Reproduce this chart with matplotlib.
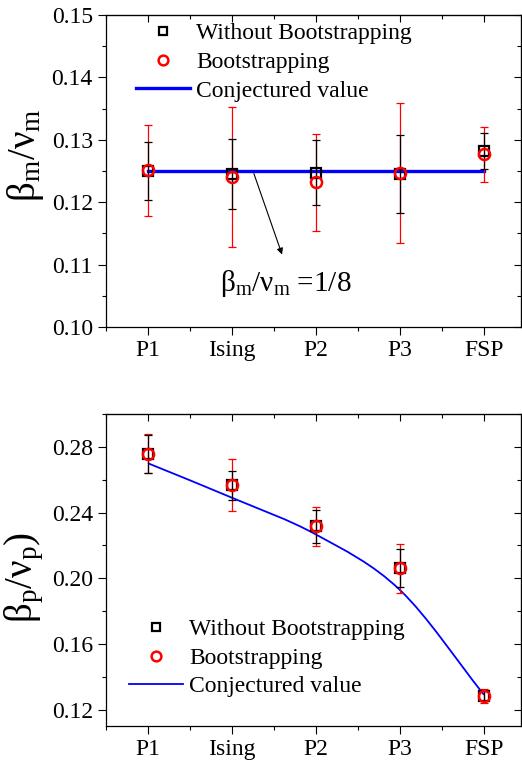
import matplotlib.pyplot as plt
from matplotlib.path import Path
from matplotlib.patches import PathPatch
from matplotlib.lines import Line2D
from matplotlib.ticker import MultipleLocator
import numpy as np

plt.rcParams['font.family'] = 'Liberation Serif'
plt.rcParams['mathtext.fontset'] = 'custom'
plt.rcParams['mathtext.rm'] = 'Liberation Serif'
plt.rcParams['mathtext.it'] = 'Liberation Serif:italic'

categories = ['P1', 'Ising', 'P2', 'P3', 'FSP']

# top panel: beta_m / nu_m
m_plain = [0.1250, 0.12445, 0.12475, 0.1245, 0.1282]
m_plain_err = [0.0046, 0.0056, 0.0052, 0.0062, 0.0029]
m_boot = [0.1251, 0.1240, 0.1232, 0.12465, 0.1277]
m_boot_err = [0.0073, 0.0112, 0.0078, 0.0112, 0.0044]
m_conj = [0.125, 0.125, 0.125, 0.125, 0.125]

# bottom panel: beta_p / nu_p
p_plain = [0.2757, 0.2565, 0.2315, 0.2061, 0.1285]
p_plain_err = [0.0115, 0.0090, 0.0098, 0.0116, 0.0030]
p_boot = [0.2759, 0.2568, 0.2315, 0.2060, 0.1285]
p_boot_err = [0.0121, 0.0160, 0.0116, 0.0150, 0.0042]
p_conj = [0.270, 0.249, 0.2266, 0.1928, 0.1290]

x = np.arange(len(categories))

fig = plt.figure(figsize=(5.22, 7.61), dpi=100)
ax1 = fig.add_axes([0.203, 0.5703, 0.795, 0.41])
ax2 = fig.add_axes([0.203, 0.046, 0.795, 0.41])


def smooth_path(xs, ys):
    # Catmull-Rom style bezier through the points
    xs = np.asarray(xs, float)
    ys = np.asarray(ys, float)
    n = len(xs)
    tx = np.gradient(xs)
    ty = np.gradient(ys)
    verts = [(xs[0], ys[0])]
    codes = [Path.MOVETO]
    for i in range(n - 1):
        verts.append((xs[i] + tx[i] / 3, ys[i] + ty[i] / 3))
        verts.append((xs[i + 1] - tx[i + 1] / 3, ys[i + 1] - ty[i + 1] / 3))
        verts.append((xs[i + 1], ys[i + 1]))
        codes += [Path.CURVE4] * 3
    return Path(verts, codes)


def style(ax, ymin, ymax, major, minor):
    ax.set_xlim(-0.5, 4.44)
    ax.set_ylim(ymin, ymax)
    ax.set_xticks(x)
    ax.set_xticklabels(categories)
    ax.xaxis.set_minor_locator(MultipleLocator(0.5))
    ax.yaxis.set_major_locator(MultipleLocator(major))
    ax.yaxis.set_minor_locator(MultipleLocator(minor))
    ax.tick_params(which='both', direction='out', labelsize=17, width=0.8)
    ax.tick_params(which='major', length=6)
    ax.tick_params(which='minor', length=3)
    for s in ax.spines.values():
        s.set_linewidth(0.9)
    sx = ax.secondary_xaxis('top')
    sx.set_xticks(x)
    sx.xaxis.set_minor_locator(MultipleLocator(0.5))
    sx.tick_params(which='both', direction='in', labeltop=False, width=0.8)
    sx.tick_params(which='major', length=5)
    sx.tick_params(which='minor', length=3)
    sy = ax.secondary_yaxis('right')
    sy.yaxis.set_major_locator(MultipleLocator(major))
    sy.yaxis.set_minor_locator(MultipleLocator(minor))
    sy.tick_params(which='both', direction='in', labelright=False, width=0.8)
    sy.tick_params(which='major', length=5)
    sy.tick_params(which='minor', length=3)


def draw(ax, plain, plain_err, boot, boot_err):
    ax.errorbar(x, boot, yerr=boot_err, fmt='none', ecolor='red', elinewidth=0.9,
                capsize=3, capthick=0.9, zorder=2)
    ax.errorbar(x, plain, yerr=plain_err, fmt='none', ecolor='black', elinewidth=0.9,
                capsize=3, capthick=0.9, zorder=2.5)
    ax.plot(x, plain, 's', mfc='none', mec='black', ms=7, mew=1.6, zorder=3)
    ax.plot(x, boot, 'o', mfc='none', mec='red', ms=8, mew=1.8, zorder=4)


# top panel
style(ax1, 0.10, 0.15, 0.01, 0.005)
ax1.plot(x, m_conj, color='#0000ff', lw=2.4, zorder=1)
draw(ax1, m_plain, m_plain_err, m_boot, m_boot_err)
ax1.set_ylabel(r'$\mathrm{\beta_m/\nu_m}$', fontsize=28)
ax1.yaxis.set_label_coords(-0.145, 0.55)
ax1.annotate('', xy=(1.607, 0.1112), xytext=(1.25, 0.125),
             arrowprops=dict(arrowstyle='-|>', color='black', lw=0.8, mutation_scale=9))
ax1.text(1.643, 0.1069, r'$\mathrm{\beta_m/\nu_m}$ =1/8', fontsize=21,
         ha='center', va='center')

h1 = [Line2D([], [], ls='none', marker='s', mfc='none', mec='black', ms=6, mew=1.6),
      Line2D([], [], ls='none', marker='o', mfc='none', mec='red', ms=7, mew=1.8),
      Line2D([], [], color='#0000ff', lw=2.4)]
ax1.legend(h1, ['Without Bootstrapping', 'Bootstrapping', 'Conjectured value'],
           loc='upper left', bbox_to_anchor=(0.05, 1.005), frameon=False, fontsize=17,
           handlelength=2.3, handletextpad=0.25, labelspacing=0.3, borderaxespad=0)

# bottom panel
style(ax2, 0.11, 0.30, 0.04, 0.02)
ax2.add_patch(PathPatch(smooth_path(x, p_conj), fill=False, edgecolor='#0000ff',
                        lw=1.3, zorder=1))
draw(ax2, p_plain, p_plain_err, p_boot, p_boot_err)
ax2.set_ylabel(r'$\mathrm{\beta_p/\nu_p)}$', fontsize=28)
ax2.yaxis.set_label_coords(-0.145, 0.475)

h2 = [Line2D([], [], ls='none', marker='s', mfc='none', mec='black', ms=6, mew=1.6),
      Line2D([], [], ls='none', marker='o', mfc='none', mec='red', ms=7, mew=1.8),
      Line2D([], [], color='#0000ff', lw=1.3)]
ax2.legend(h2, ['Without Bootstrapping', 'Bootstrapping', 'Conjectured value'],
           loc='upper left', bbox_to_anchor=(0.032, 0.374), frameon=False, fontsize=17,
           handlelength=2.3, handletextpad=0.25, labelspacing=0.3, borderaxespad=0)

fig.savefig('out.png', dpi=100)
